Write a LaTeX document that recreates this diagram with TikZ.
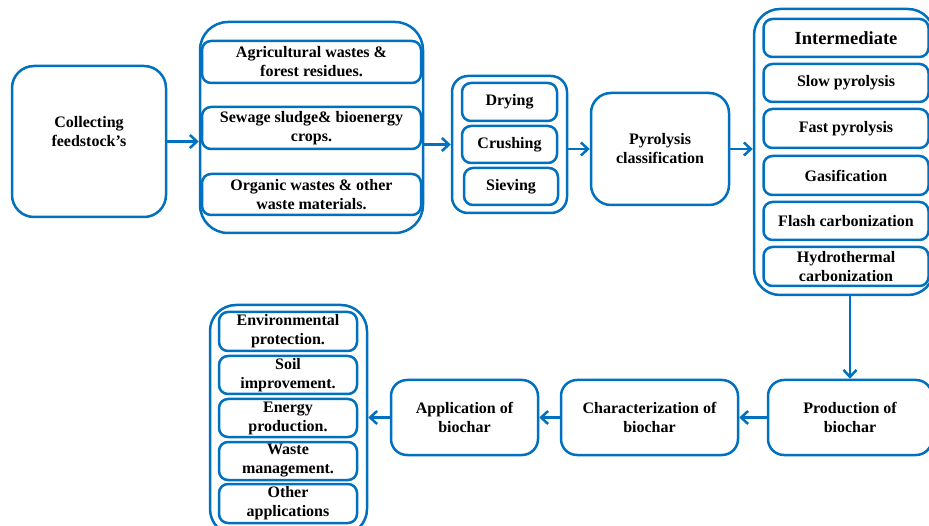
\documentclass[tikz,border=0pt]{standalone}
\usepackage{fontspec}
\setmainfont{Liberation Serif}
\usetikzlibrary{arrows.meta}
\definecolor{bblue}{RGB}{0,112,192}
\tikzset{
  txt/.style={align=center, font=\fontsize{16}{19}\selectfont\bfseries, inner sep=0pt},
  box/.style={txt, draw=bblue, line width=2.5pt, fill=white, rounded corners=#1},
  box/.default=9pt,
  conn/.style={draw=bblue, line width=2.5pt, -{Straight Barb[length=7pt,width=13pt,line width=2.5pt]}}
}
\begin{document}
\begin{tikzpicture}[x=1pt,y=-1pt]
\useasboundingbox (0,0) rectangle (929,526);
% top row
\node[box=22pt, minimum width=154pt, minimum height=151pt] (collect) at (89,141.5) {};
\node[txt] (collectT) at (89,132) {Collecting\\feedstock’s};
\node[box=28pt, minimum width=223pt, minimum height=211pt] (feedO) at (311.5,127.5) {};
\node[box, minimum width=219pt, minimum height=42pt] (feed1) at (311.5,62) {Agricultural wastes \&\\forest residues.};
\node[box, minimum width=219pt, minimum height=42pt] (feed2) at (311.5,128) {Sewage sludge\& bioenergy\\crops.};
\node[box, minimum width=219pt, minimum height=41pt] (feed3) at (311.5,194.5) {Organic wastes \& other\\waste materials.};
\node[box=16pt, minimum width=115pt, minimum height=137pt] (procO) at (509.5,144.5) {};
\node[box, minimum width=95pt, minimum height=38pt] (dry) at (509.5,102) {Drying};
\node[box, minimum width=95pt, minimum height=37pt] (crush) at (509.5,144.5) {Crushing};
\node[box, minimum width=94pt, minimum height=37pt] (sieve) at (511,186.5) {Sieving};
\node[box=20pt, minimum width=138pt, minimum height=112pt] (pyro) at (660,149) {Pyrolysis\\classification};
\node[box=26pt, minimum width=180pt, minimum height=286pt] (pyrO) at (844,152) {};
\node[box, minimum width=165pt, minimum height=38pt, font=\fontsize{18.5}{20}\selectfont\bfseries] (inter) at (846,38) {Intermediate};
\node[box, minimum width=165pt, minimum height=38pt] (slow) at (846,83) {Slow pyrolysis};
\node[box, minimum width=165pt, minimum height=39pt] (fast) at (846,128.5) {Fast pyrolysis};
\node[box, minimum width=165pt, minimum height=39pt] (gas) at (846,175.5) {Gasification};
\node[box, minimum width=165pt, minimum height=38pt] (flash) at (846,221) {Flash carbonization};
\node[box, minimum width=165pt, minimum height=39pt] (hydro) at (846,266.5) {Hydrothermal\\carbonization};
% bottom row
\node[box=16pt, minimum width=164pt, minimum height=75pt] (prod) at (850,417.5) {Production of\\biochar};
\node[box=16pt, minimum width=177pt, minimum height=75pt] (char) at (649.5,417.5) {Characterization of\\biochar};
\node[box=16pt, minimum width=147pt, minimum height=75pt] (app) at (464.5,417.5) {Application of\\biochar};
\node[box=26pt, minimum width=157pt, minimum height=230pt] (appO) at (288.5,420) {};
\node[box, minimum width=138pt, minimum height=39pt] (env) at (288,331.5) {Environmental\\protection.};
\node[box, minimum width=138pt, minimum height=38pt] (soil) at (288,375) {Soil\\improvement.};
\node[box, minimum width=138pt, minimum height=38pt] (energy) at (288,418) {Energy\\production.};
\node[box, minimum width=138pt, minimum height=38pt] (waste) at (288,461) {Waste\\management.};
\node[box, minimum width=138pt, minimum height=39pt] (other) at (288,503.5) {Other\\applications};
% connectors
\draw[conn] (collect.east) -- (collect.east -| feedO.west);
\draw[conn] (procO.west -| feedO.east) -- (procO.west);
\draw[conn] (pyro.west -| procO.east) -- (pyro.west);
\draw[conn] (pyro.east) -- (pyro.east -| pyrO.west);
\draw[conn] (pyrO.south -| prod.north) -- (prod.north);
\draw[conn] (prod.west) -- (char.east);
\draw[conn] (char.west) -- (app.east);
\draw[conn] (app.west) -- (app.west -| appO.east);
\end{tikzpicture}
\end{document}
